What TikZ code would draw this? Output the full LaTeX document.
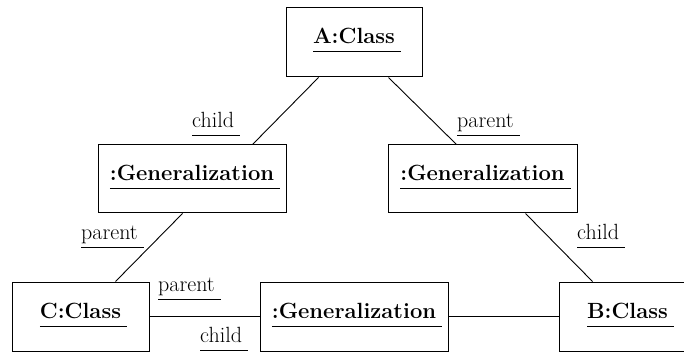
\documentclass[tikz,border=0pt]{standalone}
\usepackage{fontspec}
% underlined name: rule 8pt below the baseline, running 6pt past the text
\newcommand\ulin[1]{\sbox0{#1}\rlap{\raisebox{-8.5pt}{\rule{\dimexpr\wd0+6pt\relax}{1pt}}}\usebox0\hspace{6pt}}
\begin{document}
\begin{tikzpicture}[x=1pt,y=-1pt,
  objbox/.style={draw,line width=1pt,rectangle,minimum height=69pt,inner sep=0pt},
  title/.style={anchor=base,inner sep=0pt,font=\fontsize{22}{26}\selectfont\bfseries},
  role/.style={anchor=base west,inner sep=0pt,font=\fontsize{22}{26}\selectfont},
  link/.style={line width=0.9pt}]
\useasboundingbox (0,0) rectangle (684,352);
\clip (0,0) rectangle (684,352);
% objects
\node[objbox,minimum width=136pt] (A)  at (354,42.5)   {};
\node[objbox,minimum width=188pt,minimum height=68pt] (LG) at (192,179) {};
\node[objbox,minimum width=189pt,minimum height=68pt] (RG) at (482.5,179) {};
\node[objbox,minimum width=137pt] (C)  at (80.5,316.5) {};
\node[objbox,minimum width=188pt] (MG) at (354,316.5)  {};
\node[objbox,minimum width=137pt] (B)  at (627.5,316.5){};
% object names
\node[title] (tA)  at (354,44)   {\ulin{A:Class}};
\node[title] (tLG) at (192,181)  {\ulin{:Generalization}};
\node[title] (tRG) at (482.5,181){\ulin{:Generalization}};
\node[title] (tC)  at (80.5,318) {\ulin{C:Class}};
\node[title] (tMG) at (354,318)  {\ulin{:Generalization}};
\node[title] (tB)  at (627.5,318){\ulin{B:Class}};
% links
\draw[link] ([xshift=33pt]A.south west) -- ([xshift=-34pt]LG.north east);
\draw[link] ([xshift=-34pt]A.south east) -- ([xshift=69pt]RG.north west);
\draw[link] ([xshift=85pt]LG.south west) -- ([xshift=-34pt]C.north east);
\draw[link] ([xshift=-52pt]RG.south east) -- ([xshift=34pt]B.north west);
\draw[link] (C.east) -- (MG.west);
\draw[link] (MG.east) -- (B.west);
% role names
\node[role] (r1) at (192,128) {\ulin{child}};
\node[role] (r2) at (457,128) {\ulin{parent}};
\node[role] (r3) at (81,240)  {\ulin{parent}};
\node[role] (r4) at (577,240) {\ulin{child}};
\node[role] (r5) at (158,291) {\ulin{parent}};
\node[role] (r6) at (200,342) {\ulin{child}};
\end{tikzpicture}
\end{document}
